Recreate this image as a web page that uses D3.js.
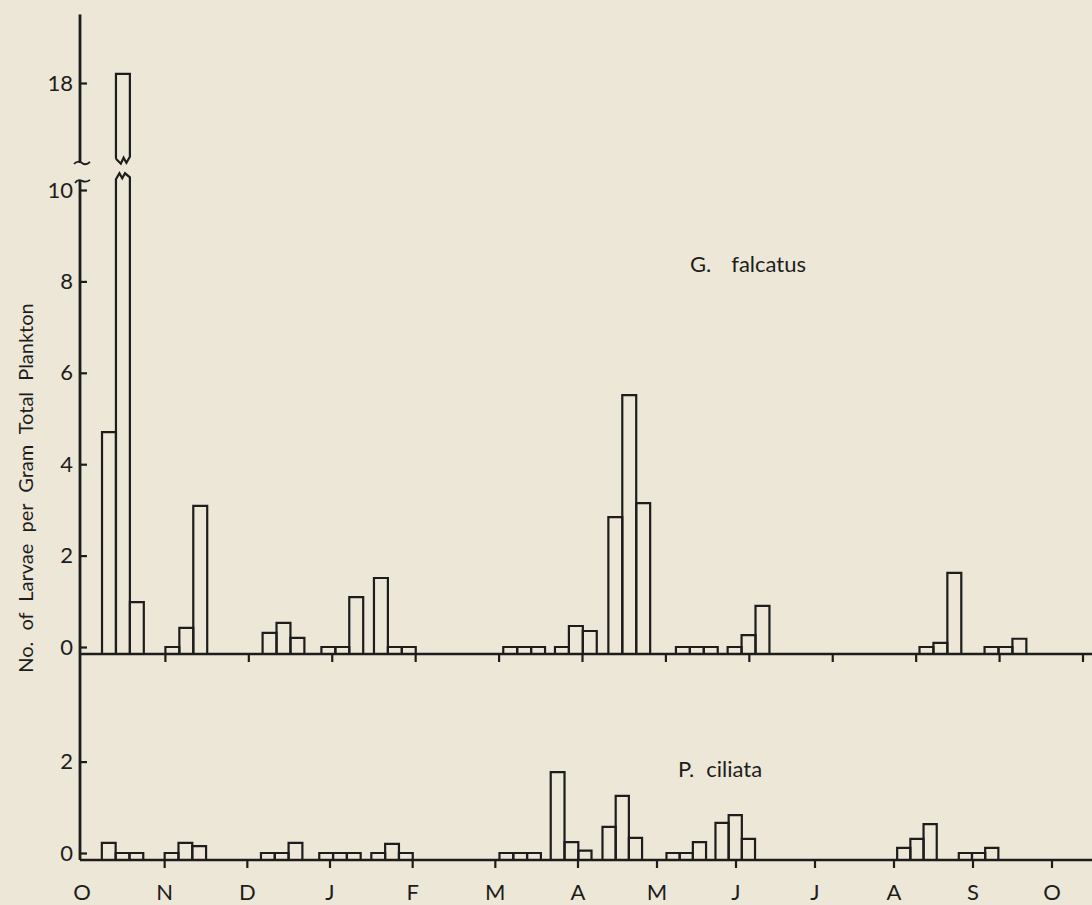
<!DOCTYPE html>
<html>
<head>
<meta charset="utf-8">
<script src="https://cdn.jsdelivr.net/npm/d3@7"></script>
<style>
  body { margin: 0; background: #ece7d7; }
  svg { display: block; }
  text { font-family: Lato, "DejaVu Sans", sans-serif; fill: #1d1d1d; }
</style>
</head>
<body>
<div id="chart"></div>
<script>
// month labels along the bottom, Oct through Oct
const months = ["O", "N", "D", "J", "F", "M", "A", "M", "J", "J", "A", "S", "O"];
const upperTicks = [0, 2, 4, 6, 8, 10];
const brokenTicks = [18];
const lowerTicks = [0, 2];

// each group is three consecutive samples; start given in months from 1 October
const sampleSpan = 0.167;
const groupStart = [0.24, 1.0, 2.165, 2.87, 3.5, 5.05, 5.67, 6.31, 7.12, 7.74, 10.04, 10.82];

// G. falcatus, larvae per gram, three values per group
const gfValues = [
  4.70, 18.2, 0.98,
  0.0, 0.42, 3.09,
  0.31, 0.53, 0.20,
  0.0, 0.0, 1.09,
  1.51, 0.0, 0.0,
  0.0, 0.0, 0.0,
  0.0, 0.46, 0.35,
  2.84, 5.51, 3.15,
  0.0, 0.0, 0.0,
  0.0, 0.26, 0.90,
  0.0, 0.09, 1.62,
  0.0, 0.0, 0.18
];

// P. ciliata
const pcValues = [
  0.22, 0.0, 0.0,
  0.0, 0.22, 0.15,
  0.0, 0.0, 0.22,
  0.0, 0.0, 0.0,
  0.0, 0.20, 0.0,
  0.0, 0.0, 0.0,
  1.77, 0.24, 0.05,
  0.57, 1.25, 0.33,
  0.0, 0.0, 0.24,
  0.66, 0.83, 0.31,
  0.11, 0.31, 0.63,
  0.0, 0.0, 0.11
];

const width = 1092, height = 905;
const ink = "#1d1d1d";
const axisX = 80;
const unit = 45.7;      // px per larva/gram
const basePad = 7;      // baseline sits a little under zero so nil samples show as stubs
const breakLow = 10.3, breakHigh = 16.3;

const xU = d3.scaleLinear().domain([0, 12]).range([82, 1083]);
// the lower panel's time axis is drawn slightly shorter in its second half
const xL = d3.scaleLinear().domain([0, 6, 12]).range([82, 578, 1052]);
const yU = d3.scaleLinear().domain([0, 10]).range([647, 647 - 10 * unit]);
const yTop = d3.scaleLinear().domain([18, 19]).range([83, 83 - unit]);
const yL = d3.scaleLinear().domain([0, 2]).range([853, 853 - 2 * unit]);

const svg = d3.select("#chart").append("svg")
  .attr("width", width).attr("height", height);

svg.append("rect").attr("width", width).attr("height", height).attr("fill", "#ece7d7");

function toBars(starts, values) {
  const bars = [];
  starts.forEach((s, g) => {
    for (let i = 0; i < 3; i++) {
      bars.push({ x0: s + i * sampleSpan, x1: s + (i + 1) * sampleSpan, v: values[g * 3 + i] });
    }
  });
  return bars;
}

function barPath(x0, x1, yb, yt) {
  return `M${x0},${yb}V${yt}H${x1}V${yb}`;
}

// ---- upper panel: G. falcatus ----
const baseU = yU(0) + basePad;
const gU = svg.append("g");

toBars(groupStart, gfValues).forEach(b => {
  const x0 = xU(b.x0), x1 = xU(b.x1), w = x1 - x0;
  if (b.v <= breakLow) {
    gU.append("path").attr("d", barPath(x0, x1, baseU, yU(b.v)));
  } else {
    // bar runs off the scale: draw it in two pieces with torn ends
    const zt = yU(breakLow);
    gU.append("path").attr("d",
      `M${x0},${baseU}V${zt + 3}L${x0 + w * 0.25},${zt - 3}L${x0 + w * 0.45},${zt + 2}` +
      `L${x0 + w * 0.65},${zt - 3}L${x1},${zt + 1}V${baseU}`);
    const zb = yTop(breakHigh);
    gU.append("path").attr("d",
      `M${x0},${zb - 2}V${yTop(b.v)}H${x1}V${zb - 4}L${x1 - w * 0.25},${zb + 2}` +
      `L${x1 - w * 0.45},${zb - 3}L${x1 - w * 0.65},${zb + 3}L${x0},${zb - 2}`);
  }
});
gU.selectAll("path").attr("fill", "none").attr("stroke", ink).attr("stroke-width", 2.2)
  .attr("stroke-linejoin", "miter");

// ---- lower panel: P. ciliata ----
const baseL = yL(0) + basePad;
const gL = svg.append("g");
toBars(groupStart, pcValues).forEach(b => {
  gL.append("path").attr("d", barPath(xL(b.x0), xL(b.x1), baseL, yL(b.v)));
});
gL.selectAll("path").attr("fill", "none").attr("stroke", ink).attr("stroke-width", 2.2);

// ---- baselines with month ticks ----
function baseline(y, x) {
  svg.append("line").attr("x1", axisX).attr("x2", width).attr("y1", y).attr("y2", y)
    .attr("stroke", ink).attr("stroke-width", 2.6);
  svg.append("g").selectAll("line").data(d3.range(1, 13)).join("line")
    .attr("x1", d => x(d)).attr("x2", d => x(d))
    .attr("y1", y).attr("y2", y + 8)
    .attr("stroke", ink).attr("stroke-width", 2.2);
}
baseline(baseU, xU);
baseline(baseL, xL);

// ---- vertical axis, broken between 10 and 18 ----
svg.append("line").attr("x1", axisX).attr("x2", axisX)
  .attr("y1", yTop(19.5)).attr("y2", yTop(16.25))
  .attr("stroke", ink).attr("stroke-width", 2.8);
svg.append("line").attr("x1", axisX).attr("x2", axisX)
  .attr("y1", yU(10.2)).attr("y2", baseL)
  .attr("stroke", ink).attr("stroke-width", 2.8);

const bTop = yTop(16.25), bLow = yU(10.2);
svg.append("path")
  .attr("d", `M${axisX - 6},${bTop + 1}Q${axisX - 2},${bTop - 3} ${axisX + 2},${bTop}T${axisX + 10},${bTop - 1}`)
  .attr("fill", "none").attr("stroke", ink).attr("stroke-width", 1.8);
svg.append("path")
  .attr("d", `M${axisX - 5},${bLow + 2}Q${axisX - 2},${bLow - 2} ${axisX + 2},${bLow}T${axisX + 10},${bLow - 1}`)
  .attr("fill", "none").attr("stroke", ink).attr("stroke-width", 1.8);

function yAxis(scale, ticks) {
  const g = svg.append("g").attr("transform", `translate(${axisX},0)`)
    .call(d3.axisLeft(scale).tickValues(ticks).tickFormat(d3.format("d"))
      .tickSizeInner(-7).tickSizeOuter(0).tickPadding(7));
  g.select(".domain").remove();
  g.attr("font-family", null).attr("font-size", null);
  g.selectAll(".tick line").attr("stroke", ink).attr("stroke-width", 2.2);
  g.selectAll(".tick text").attr("fill", ink).style("font-size", "22px");
}
yAxis(yU, upperTicks);
yAxis(yTop, brokenTicks);
yAxis(yL, lowerTicks);

// ---- month labels ----
svg.append("g").selectAll("text").data(months).join("text")
  .attr("x", (d, i) => xL(i)).attr("y", 900)
  .attr("text-anchor", "middle")
  .style("font-size", "22px")
  .text(d => d);

// ---- species labels ----
function species(x, y, genus, name, gap) {
  const t = svg.append("text").attr("x", x).attr("y", y).style("font-size", "22px");
  t.append("tspan").text(genus);
  t.append("tspan").attr("dx", gap).text(name);
}
species(690, 272, "G.", "falcatus", 20);
species(678, 777, "P.", "ciliata", 12);

// ---- y axis title ----
svg.append("text")
  .attr("transform", "translate(33,488) rotate(-90)")
  .attr("text-anchor", "middle")
  .style("font-size", "20px").style("word-spacing", "6px")
  .text("No. of  Larvae per Gram  Total  Plankton");
</script>
</body>
</html>
